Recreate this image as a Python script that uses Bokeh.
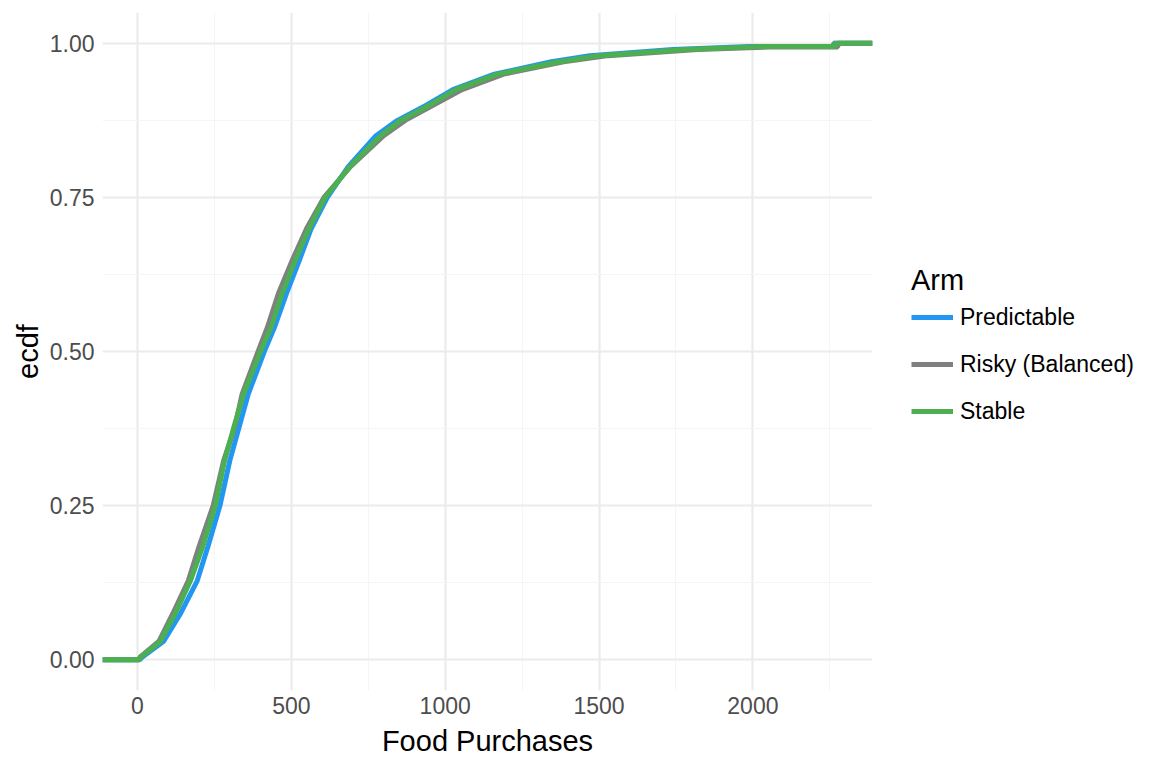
from bokeh.plotting import figure
from bokeh.models import Legend, LegendItem, FixedTicker, Range1d
from bokeh.embed import file_html
from bokeh.resources import INLINE

X_LO, X_HI = -113.75, 2388.75

# ECDF levels and x-values (food purchases)
levels = [0.0, 0.004, 0.03, 0.075, 0.128, 0.182, 0.25, 0.323, 0.377, 0.431, 0.5, 0.539,
          0.594, 0.648, 0.7, 0.75, 0.8, 0.85, 0.875, 0.9, 0.925, 0.95, 0.97, 0.98, 0.99, 0.995]

pred_x = [8, 15, 85, 140, 194, 228, 268, 300, 330, 360, 412, 445,
          484, 526, 565, 617, 685, 775, 845, 940, 1025, 1160, 1345, 1470, 1740, 1990]
pred_max = 2262

risky_x = [3, 8, 70, 115, 165, 199, 246, 280, 316, 340, 392, 422,
           458, 503, 550, 606, 692, 800, 870, 962, 1055, 1190, 1385, 1530, 1820, 2050]
risky_levels = levels[:-1] + [0.994]
risky_max = 2276

stable_x = [5, 10, 75, 123, 172, 211, 253, 283, 313, 345, 400, 434,
            470, 513, 558, 610, 690, 790, 856, 950, 1035, 1170, 1370, 1500, 1780, 2050]
stable_max = 2266

arms = ["Predictable", "Risky (Balanced)", "Stable"]
colors = ["#2196F3", "#808080", "#4CAF50"]

x_ticks = [0, 500, 1000, 1500, 2000]
x_minor = [250, 750, 1250, 1750, 2250]
y_ticks = [0.0, 0.25, 0.5, 0.75, 1.0]
y_minor = [0.125, 0.375, 0.625, 0.875]
y_tick_labels = {0.0: "0.00", 0.25: "0.25", 0.5: "0.50", 0.75: "0.75", 1.0: "1.00"}

FONT = "Liberation Sans"

p = figure(frame_width=770, frame_height=678, output_backend="svg", toolbar_location=None,
           x_range=Range1d(X_LO, X_HI), y_range=Range1d(-0.05, 1.05),
           min_border_left=102, min_border_top=12, min_border_bottom=70, min_border_right=10)
p.outline_line_color = None
p.background_fill_color = "white"
p.border_fill_color = "white"


def ecdf_path(xs, lv, xmax):
    # pad like stat_ecdf: from -Inf at 0, to +Inf at 1
    px = [X_LO] + list(xs) + [xmax, xmax, X_HI]
    py = [lv[0]] + list(lv) + [lv[-1], 1.0, 1.0]
    return px, py


renderers = []
for xs, lv, xm, c in [(pred_x, levels, pred_max, colors[0]),
                      (risky_x, risky_levels, risky_max, colors[1]),
                      (stable_x, levels, stable_max, colors[2])]:
    px, py = ecdf_path(xs, lv, xm)
    r = p.line(px, py, line_color=c, line_width=5)
    renderers.append(r)

p.xaxis.ticker = FixedTicker(ticks=x_ticks, minor_ticks=x_minor)
p.yaxis.ticker = FixedTicker(ticks=y_ticks, minor_ticks=y_minor)
p.yaxis.major_label_overrides = y_tick_labels

for ax in (p.xaxis, p.yaxis):
    ax.axis_line_color = None
    ax.major_tick_line_color = None
    ax.minor_tick_line_color = None
    ax.major_label_text_font = FONT
    ax.major_label_text_font_size = "23px"
    ax.major_label_text_color = "#4D4D4D"
    ax.axis_label_text_font = FONT
    ax.axis_label_text_font_size = "29px"
    ax.axis_label_text_font_style = "normal"
    ax.axis_label_text_color = "black"

p.xaxis.axis_label = "Food Purchases"
p.yaxis.axis_label = "ecdf"
p.xaxis.major_label_standoff = 0
p.xaxis.axis_label_standoff = 8
p.yaxis.major_label_standoff = 2
p.yaxis.axis_label_standoff = 3

for g in (p.xgrid, p.ygrid):
    g.grid_line_color = "#EBEBEB"
    g.grid_line_width = 2.2
    g.minor_grid_line_color = "#F5F5F5"
    g.minor_grid_line_width = 1.1

items = [LegendItem(label=a, renderers=[r]) for a, r in zip(arms, renderers)]
legend = Legend(items=items, location=(39, 264), title="Arm",
                title_text_font=FONT, title_text_font_size="29px", title_text_font_style="normal",
                title_text_color="black", title_standoff=5,
                label_text_font=FONT, label_text_font_size="23px", label_text_color="black",
                glyph_width=42, glyph_height=30, label_height=30, spacing=17, label_standoff=7,
                padding=0, margin=0, border_line_color=None, background_fill_alpha=0)
p.add_layout(legend, "right")

open("out.html", "w").write(file_html(p, INLINE))
